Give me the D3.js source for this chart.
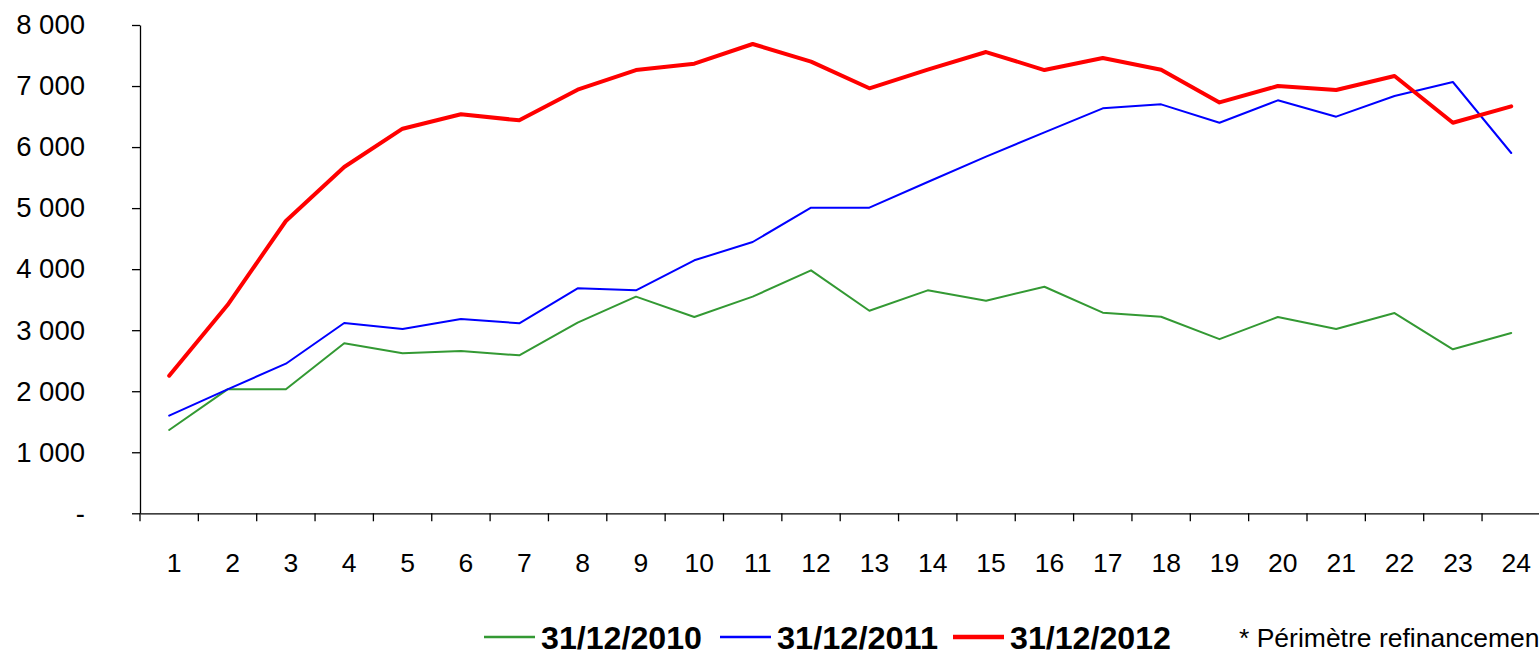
<!DOCTYPE html>
<html>
<head>
<meta charset="utf-8">
<script src="https://cdn.jsdelivr.net/npm/d3@7"></script>
<style>
  html, body { margin: 0; padding: 0; background: #fff; overflow: hidden; }
  svg { display: block; font-family: "Liberation Sans", Arial, sans-serif; }
</style>
</head>
<body>
<div id="chart"></div>
<script>
var categories = d3.range(1, 25).map(String);

var serie2010 = [1365, 2031, 2031, 2785, 2621, 2659, 2588, 3123, 3549, 3216, 3549, 3981,
                 3319, 3653, 3483, 3712, 3287, 3221, 2853, 3216, 3019, 3281, 2687, 2954];
var serie2011 = [1599, 2031, 2451, 3118, 3019, 3185, 3113, 3686, 3653, 4145, 4445, 5007,
                 5007, 5428, 5843, 6242, 6635, 6700, 6399, 6766, 6498, 6836, 7066, 5903];
var serie2012 = [2254, 3412, 4789, 5673, 6301, 6537, 6438, 6940, 7262, 7366, 7689, 7399,
                 6963, 7270, 7557, 7262, 7459, 7268, 6732, 7000, 6935, 7164, 6399, 6668];

var seriesNames = ["31/12/2010", "31/12/2011", "31/12/2012"];
var seriesColors = ["#339933", "#0000ff", "#ff0000"];
var seriesWidths = [2, 2, 4];
var yTicks = [0, 1000, 2000, 3000, 4000, 5000, 6000, 7000, 8000];
var footnote = "* Périmètre refinancement";

var W = 1539, H = 651,
    plotLeft = 140, plotRight = 1540.4, plotTop = 25, plotBottom = 513.3;

var svg = d3.select("#chart").append("svg")
    .attr("width", W)
    .attr("height", H);

var x = d3.scaleBand()
    .domain(categories)
    .range([plotLeft, plotRight])
    .padding(0);

var y = d3.scaleLinear()
    .domain([0, 8000])
    .range([plotBottom, plotTop]);

var fr = d3.formatLocale({ decimal: ",", thousands: " ", grouping: [3], currency: ["", ""] });
var fmt = fr.format(",");

// y axis
var yAxis = svg.append("g")
    .attr("transform", "translate(" + plotLeft + ",0)")
    .call(d3.axisLeft(y)
        .tickValues(yTicks)
        .tickSize(8)
        .tickSizeOuter(0)
        .tickPadding(47)
        .tickFormat(function (d) { return d === 0 ? "-" : fmt(d); }));
yAxis.selectAll("text")
    .attr("font-size", 27.5)
    .attr("fill", "#000")
    .attr("font-family", "Liberation Sans, Arial, sans-serif");
yAxis.selectAll("line, path").attr("stroke", "#000").attr("stroke-width", 1.3);

// x axis
var xAxis = svg.append("g")
    .attr("transform", "translate(0," + plotBottom + ")")
    .call(d3.axisBottom(x)
        .tickSize(0)
        .tickSizeOuter(0)
        .tickPadding(40));
xAxis.selectAll("text")
    .attr("font-size", 26.5)
    .attr("dx", 5)
    .attr("fill", "#000")
    .attr("font-family", "Liberation Sans, Arial, sans-serif");
xAxis.select("path").attr("stroke", "#000").attr("stroke-width", 1.3);

// boundary ticks between categories
xAxis.selectAll(".bound")
    .data(categories)
    .enter()
    .append("line")
    .classed("bound", true)
    .attr("x1", function (d) { return x(d); })
    .attr("x2", function (d) { return x(d); })
    .attr("y1", 0)
    .attr("y2", 8)
    .attr("stroke", "#000")
    .attr("stroke-width", 1.3);

// lines
var line = d3.line()
    .x(function (d, i) { return x(categories[i]) + x.bandwidth() / 2; })
    .y(function (d) { return y(d); });

[serie2010, serie2011, serie2012].forEach(function (s, k) {
    svg.append("path")
        .datum(s)
        .attr("d", line)
        .attr("fill", "none")
        .attr("stroke", seriesColors[k])
        .attr("stroke-width", seriesWidths[k])
        .attr("stroke-linejoin", "round")
        .attr("stroke-linecap", "round");
});

// legend
var legendX = [484, 720, 953];
var legend = svg.append("g").attr("class", "legend");
seriesNames.forEach(function (name, k) {
    legend.append("line")
        .attr("x1", legendX[k])
        .attr("x2", legendX[k] + 51)
        .attr("y1", 637)
        .attr("y2", 637)
        .attr("stroke", seriesColors[k])
        .attr("stroke-width", seriesWidths[k] + 0.5);
    legend.append("text")
        .attr("x", legendX[k] + 57)
        .attr("y", 649)
        .attr("font-size", 32)
        .attr("font-weight", "bold")
        .attr("textLength", 161)
        .attr("lengthAdjust", "spacingAndGlyphs")
        .attr("fill", "#000")
        .text(name);
});

svg.append("text")
    .attr("x", 1239)
    .attr("y", 647)
    .attr("font-size", 26.5)
    .attr("fill", "#000")
    .text(footnote);
</script>
</body>
</html>
